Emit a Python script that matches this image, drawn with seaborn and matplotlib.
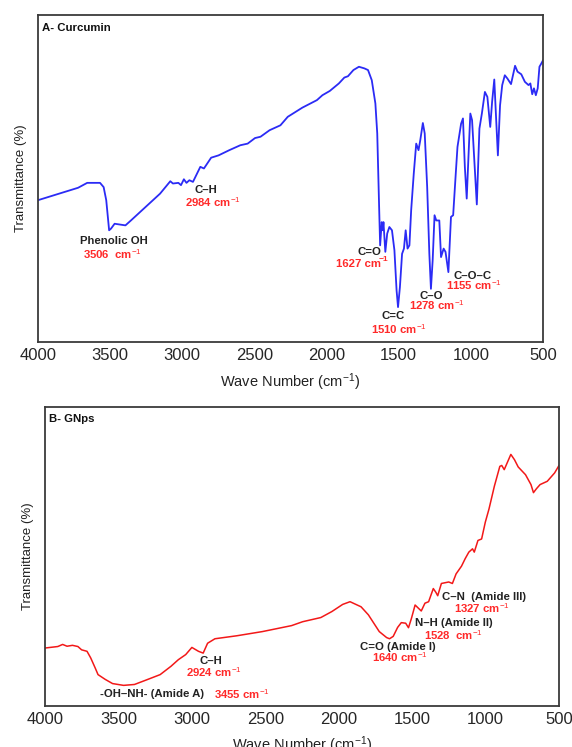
import numpy as np
import pandas as pd
import matplotlib
matplotlib.use("Agg")
import matplotlib.pyplot as plt
import seaborn as sns

# ---- Curcumin FTIR spectrum (wavenumber, relative transmittance) ----
cur_wn = [4000, 3722, 3659, 3570, 3545, 3527, 3507, 3494, 3469, 3394, 3356, 3255, 3154,
          3083, 3065, 3027, 3009, 2989, 2971, 2951, 2926, 2875, 2850, 2800, 2749, 2674,
          2598, 2547, 2496, 2458, 2395, 2320, 2269, 2168, 2067, 2029, 1978, 1915, 1877,
          1852, 1814, 1776, 1738, 1713, 1687, 1662, 1649, 1636, 1629, 1618, 1611, 1606,
          1593, 1580, 1565, 1547, 1530, 1515, 1505, 1492, 1477, 1464, 1452, 1439, 1426,
          1414, 1396, 1379, 1363, 1351, 1333, 1320, 1303, 1288, 1277, 1265, 1252, 1240,
          1232, 1219, 1207, 1189, 1176, 1156, 1138, 1123, 1105, 1093, 1068, 1055, 1042,
          1029, 1017, 1004, 992, 979, 959, 941, 924, 903, 886, 866, 853, 838, 828, 813,
          798, 783, 765, 747, 722, 694, 677, 651, 626, 601, 588, 575, 563, 550, 537, 525,
          512, 500]
cur_t = [43.4, 47.2, 48.7, 48.7, 47.4, 43.4, 34.2, 34.7, 36.2, 35.7, 37.2, 41.3, 45.4,
         49.2, 48.5, 48.7, 48.0, 49.8, 48.7, 49.5, 49.0, 53.6, 53.1, 56.4, 57.1, 58.7,
         60.2, 60.7, 62.4, 62.8, 64.8, 66.3, 68.9, 71.7, 74.0, 75.5, 76.8, 79.1, 80.9,
         81.3, 83.2, 84.2, 83.7, 83.2, 80.1, 73.0, 63.8, 41.3, 29.6, 36.7, 34.2, 36.7,
         27.6, 33.2, 35.2, 34.2, 28.1, 15.8, 10.7, 16.8, 27.0, 28.6, 34.2, 28.6, 29.6,
         40.3, 51.5, 60.7, 58.7, 61.7, 67.0, 63.8, 47.4, 27.0, 16.3, 25.0, 38.8, 37.2,
         37.2, 37.2, 26.0, 28.6, 27.6, 21.4, 38.3, 38.8, 51.5, 59.7, 66.8, 68.4, 53.6,
         43.9, 56.6, 69.9, 67.9, 57.7, 42.1, 65.3, 69.9, 76.5, 75.0, 65.8, 73.5, 80.3,
         70.9, 57.1, 72.4, 78.6, 81.6, 80.6, 78.9, 84.5, 82.7, 81.9, 79.6, 78.6, 79.1,
         75.8, 77.6, 75.5, 77.6, 84.2, 85.2, 86.2]

# ---- Gold nanoparticle FTIR spectrum ----
gnp_wn = [4000, 3913, 3880, 3850, 3813, 3776, 3751, 3714, 3689, 3659, 3639, 3590, 3540,
          3465, 3391, 3316, 3216, 3142, 3092, 3042, 3000, 2955, 2923, 2893, 2843, 2694,
          2520, 2321, 2246, 2122, 2047, 1973, 1923, 1848, 1798, 1724, 1674, 1654, 1629,
          1599, 1574, 1544, 1525, 1505, 1480, 1457, 1438, 1413, 1388, 1356, 1338, 1326,
          1301, 1251, 1226, 1201, 1164, 1139, 1114, 1089, 1077, 1052, 1027, 1002, 977,
          940, 903, 890, 873, 828, 803, 778, 728, 691, 674, 654, 629, 580, 530, 500]
gnp_t = [19.4, 19.9, 20.6, 20.0, 20.3, 19.9, 18.8, 18.3, 16.1, 12.8, 10.5, 8.9, 7.5,
         6.9, 7.2, 8.6, 10.5, 13.3, 15.5, 17.2, 19.6, 18.3, 17.7, 21.0, 22.5, 23.5,
         24.9, 26.9, 28.2, 29.6, 31.6, 34.0, 34.9, 33.2, 30.5, 24.9, 22.9, 22.5, 23.3,
         26.3, 27.9, 27.7, 26.2, 29.3, 33.8, 32.7, 31.8, 34.4, 34.9, 39.3, 38.0, 36.9,
         41.0, 41.5, 41.0, 44.2, 46.8, 49.3, 51.5, 52.6, 51.5, 55.4, 55.9, 61.5, 65.9,
         73.6, 80.2, 80.5, 79.1, 84.2, 82.4, 80.0, 77.4, 74.1, 71.4, 72.7, 74.1, 75.2,
         78.0, 80.5]

# ---- Band labels: (name, x, y, wavenumber label, x, y) ----
cur_bands = [
    ("Phenolic OH", 3474, 30.9, "3506  cm$^{-1}$", 3487, 26.8),
    ("C\u2013H", 2835, 46.4, "2984 cm$^{-1}$", 2787, 42.9),
    ("C=C", 1536, 8.0, "1510 cm$^{-1}$", 1498, 4.1),
    ("C\u2013O", 1278, 14.2, "1278 cm$^{-1}$", 1239, 11.2),
    ("C\u2013O\u2013C", 986, 20.2, "1155 cm$^{-1}$", 980, 17.3),
]
gnp_bands = [
    ("C\u2013H", 2873, 15.2, "2924 cm$^{-1}$", 2849, 11.4),
    ("-OH\u2013NH- (Amide A)", 3271, 3.9, "3455 cm$^{-1}$", 2657, 4.1),
    ("C=O (Amide I)", 1594, 19.9, "1640 cm$^{-1}$", 1582, 16.3),
    ("N\u2013H (Amide II)", 1214, 27.7, "1528  cm$^{-1}$", 1221, 23.8),
    ("C\u2013N  (Amide III)", 1009, 36.5, "1327 cm$^{-1}$", 1024, 32.9),
]
xticks = [4000, 3500, 3000, 2500, 2000, 1500, 1000, 500]

sns.set_style("white")
plt.rcParams["font.family"] = ["Liberation Sans", "DejaVu Sans"]
plt.rcParams["mathtext.fontset"] = "custom"
plt.rcParams["mathtext.rm"] = "Liberation Sans"
plt.rcParams["mathtext.it"] = "Liberation Sans:italic"
plt.rcParams["mathtext.bf"] = "Liberation Sans:bold"

fig = plt.figure(figsize=(5.72, 7.47), dpi=100)
ax1 = fig.add_axes([0.0664, 0.542, 0.883, 0.4378])
ax2 = fig.add_axes([0.0787, 0.0549, 0.8986, 0.400])

BLUE = "#2b2bf5"
RED = "#f21818"
LABEL_RED = "#ff2a2a"
ANN = 8.2


def style_axes(ax, panel):
    ax.set_xlim(4000, 500)
    ax.set_ylim(0, 100)
    ax.set_xticks(xticks)
    ax.set_xticklabels([str(t) for t in xticks], fontsize=12)
    ax.set_yticks([])
    ax.tick_params(axis="x", length=0, pad=4)
    ax.set_xlabel("Wave Number (cm$^{-1}$)", fontsize=10.5, labelpad=6, color="#222222")
    ax.set_ylabel("Transmittance (%)", fontsize=9.5, labelpad=8, color="#222222")
    for s in ax.spines.values():
        s.set_color("#3a3a3a")
        s.set_linewidth(1.3)
    ax.text(0.007, 0.962, panel, transform=ax.transAxes, fontsize=ANN,
            fontweight="bold", ha="left", va="center", color="#111111")


def put_bands(ax, bands):
    for name, nx, ny, wl, wx, wy in bands:
        ax.text(nx, ny, name, fontsize=ANN, fontweight="bold", ha="center",
                va="center", color="#222222")
        ax.text(wx, wy, wl, fontsize=ANN, fontweight="bold", ha="center",
                va="center", color=LABEL_RED)


df_cur = pd.DataFrame({"wn": cur_wn, "t": cur_t})
df_gnp = pd.DataFrame({"wn": gnp_wn, "t": gnp_t})

sns.lineplot(data=df_cur, x="wn", y="t", ax=ax1, color=BLUE, lw=1.3,
             sort=False, estimator=None)
sns.lineplot(data=df_gnp, x="wn", y="t", ax=ax2, color=RED, lw=1.1,
             sort=False, estimator=None)

style_axes(ax1, "A- Curcumin")
style_axes(ax2, "B- GNps")

put_bands(ax1, cur_bands)
# C=O band on curcumin: the superscript sits apart from its label
ax1.text(1706, 27.5, "C=O", fontsize=ANN, fontweight="bold", ha="center",
         va="center", color="#222222")
ax1.text(1782, 23.9, "1627 cm", fontsize=ANN, fontweight="bold", ha="center",
         va="center", color=LABEL_RED)
ax1.text(1607, 25.4, "\u22121", fontsize=6, fontweight="bold", ha="center",
         va="center", color=LABEL_RED)

put_bands(ax2, gnp_bands)

fig.savefig("out.png", dpi=100)
